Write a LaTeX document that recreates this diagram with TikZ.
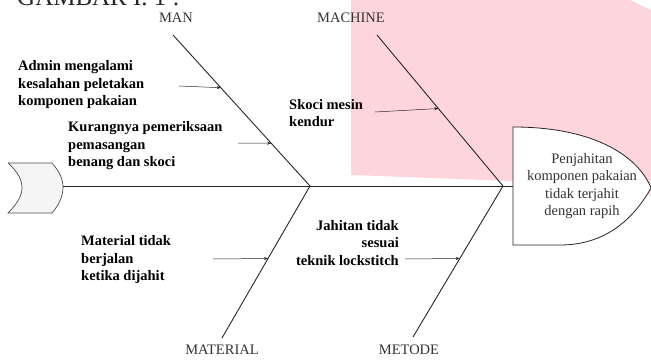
\documentclass[tikz,border=0pt]{standalone}
\usepackage{fontspec}
\setmainfont{Liberation Serif}
\usetikzlibrary{arrows.meta,calc}
\definecolor{blush}{RGB}{255,213,220}

\begin{document}
\begin{tikzpicture}[x=1pt,y=-1pt,
  bone/.style={line width=0.9pt,black!85},
  cause/.style={line width=0.5pt,black!85,-{Stealth[length=4pt,width=3pt]}},
  why/.style={font=\fontsize{14.5}{17.5}\selectfont\bfseries,align=left,inner sep=0pt},
  group/.style={font=\fontsize{14.5}{17.5}\selectfont,inner sep=0pt,text=black!80}]

\useasboundingbox (0,0) rectangle (651,359);
\clip (0,0) rectangle (651,359);

\fill[blush] (351,0) -- (630,0) -- (651,10) -- (651,195) -- (510,181) -- (351,175) -- cycle;

\node[font=\fontsize{25}{25}\selectfont,anchor=base west,inner sep=0pt,text=black!85] (title) at (17,5) {GAMBAR I. 1 :};

% tail and head
\filldraw[fill=black!4,draw=black!70,line width=0.7pt] (8,163) -- (52,163) .. controls (60,172) and (63,180) .. (63,187)
  .. controls (63,195) and (60,204) .. (52,213) -- (8,213) .. controls (18,203) and (22,195) .. (22,188)
  .. controls (22,180) and (18,172) .. (8,163);
\filldraw[fill=white,draw=black!85,line width=0.8pt] (513,245) -- (513,127) .. controls (600,127) and (640,160) .. (651,188)
  .. controls (630,225) and (600,245) .. (560,245) -- cycle;
\node[group,align=center] (effect) at (582,186) {Penjahitan\\komponen pakaian\\tidak terjahit\\dengan rapih};

\coordinate (tail) at (63,186);
\coordinate (j1) at (310,186);
\coordinate (j2) at (503,186);
\coordinate (head) at (513,186);
\draw[bone] (tail) -- (head);

\node[group] (man) at (176,18) {MAN};
\node[group] (machine) at (351,18) {MACHINE};
\node[group] (material) at (222,350) {MATERIAL};
\node[group] (metode) at (409,350) {METODE};

\coordinate (mantop) at (173,35);
\coordinate (machinetop) at (377,35);
\coordinate (materialend) at (222,338);
\coordinate (metodeend) at (413,337);
\draw[bone] (mantop) -- (j1);
\draw[bone] (machinetop) -- (j2);
\draw[bone] (j1) -- (materialend);
\draw[bone] (j2) -- (metodeend);

\node[why,anchor=west] (admin) at (18,85) {Admin mengalami\\kesalahan peletakan\\komponen pakaian};
\node[why,anchor=west] (kurang) at (68,146) {Kurangnya pemeriksaan\\pemasangan\\benang dan skoci};
\node[why,anchor=west] (skoci) at (289,113) {Skoci mesin\\kendur};
\node[why,anchor=west] (bahan) at (81,260) {Material tidak\\berjalan\\ketika dijahit};
\node[why,align=right,anchor=east] (jahitan) at (399,243) {Jahitan tidak\\sesuai\\teknik lockstitch};

\coordinate (a1) at (179,86);
\coordinate (a2) at (238,143);
\coordinate (a3) at (375,112);
\coordinate (a4) at (213,259);
\coordinate (a5) at (405,259);
\draw[cause] (a1) -- ($(mantop)!0.349!(j1)$);
\draw[cause] (a2) -- ($(mantop)!0.717!(j1)$);
\draw[cause] (a3) -- ($(machinetop)!0.487!(j2)$);
\draw[cause] (a4) -- ($(j1)!0.477!(materialend)$);
\draw[cause] (a5) -- ($(j2)!0.48!(metodeend)$);

\end{tikzpicture}
\end{document}
